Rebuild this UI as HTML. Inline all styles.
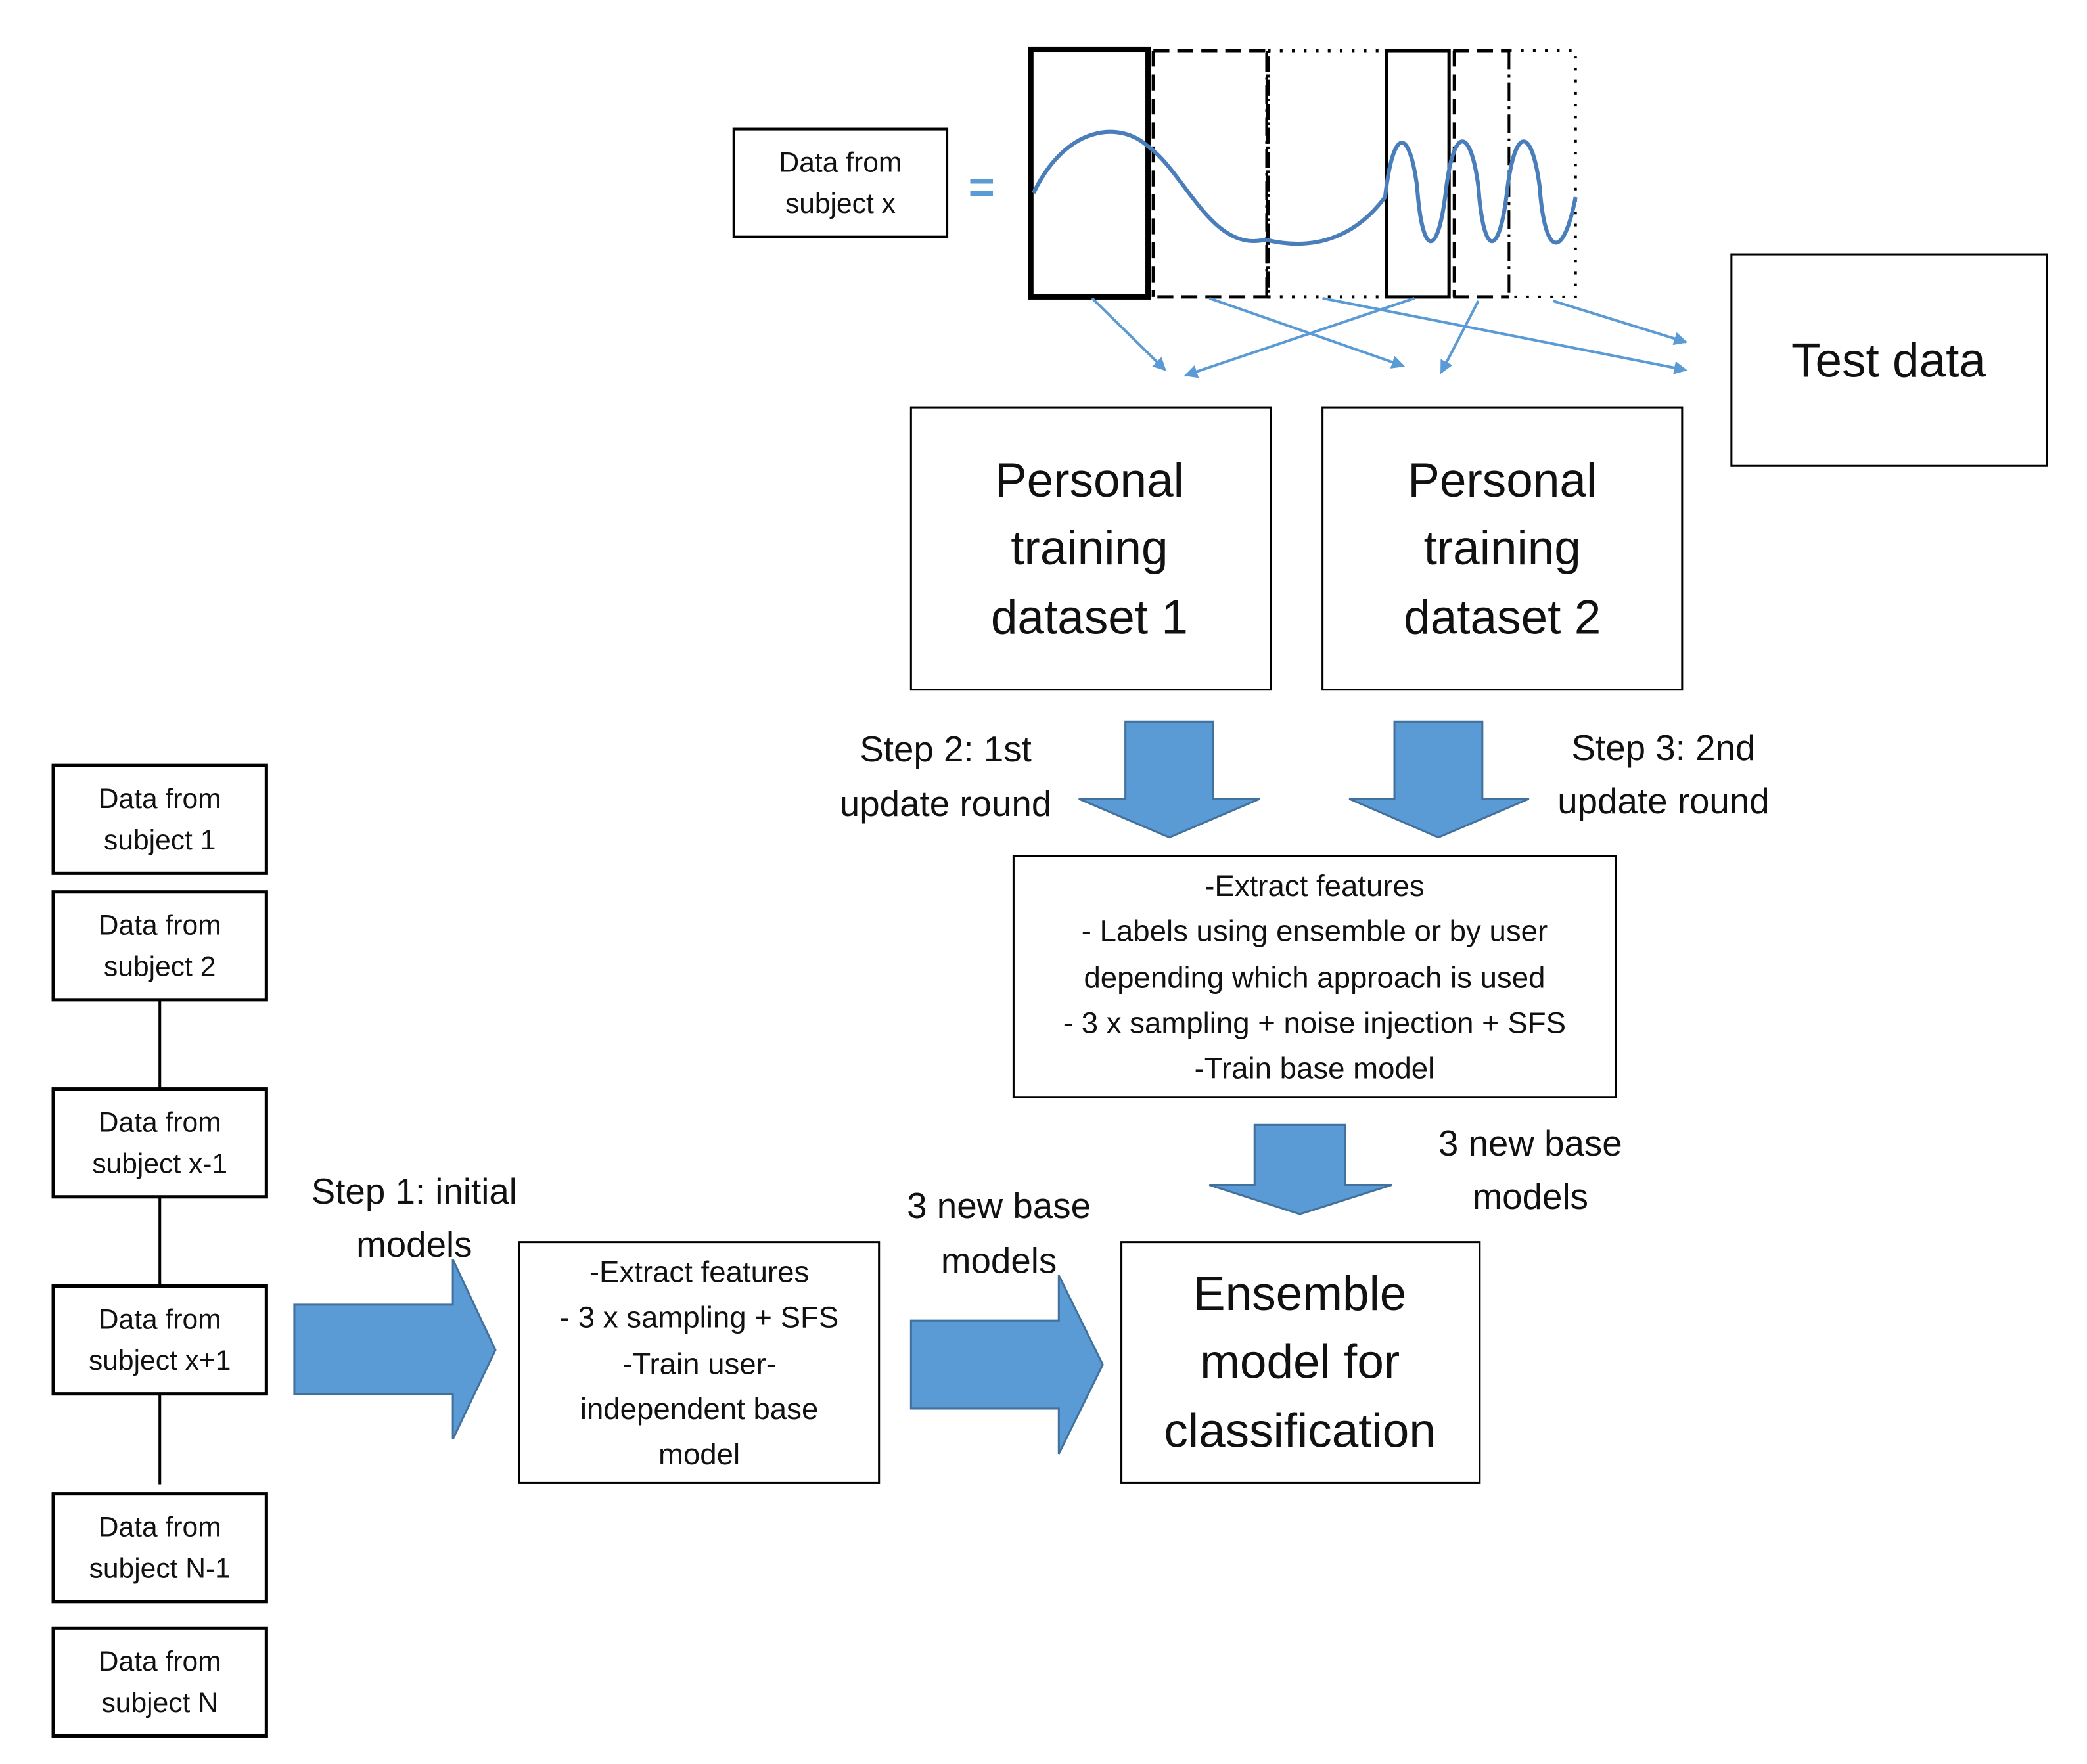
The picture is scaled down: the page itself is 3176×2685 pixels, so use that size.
<!DOCTYPE html>
<html><head><meta charset="utf-8"><style>
html,body{margin:0;padding:0;background:#fff;}
svg{display:block;}
text{font-family:"Liberation Sans",sans-serif;fill:#111;text-anchor:middle;}
</style></head><body>
<svg width="3176" height="2685" viewBox="0 0 1567 1325" preserveAspectRatio="none" xmlns="http://www.w3.org/2000/svg">
<defs>
<marker id="ah" markerWidth="10" markerHeight="10" refX="9" refY="5" orient="auto" markerUnits="userSpaceOnUse"><path d="M0,0 L10,5 L0,10 z" fill="#5B9BD5"/></marker>
</defs>
<g fill="none" stroke="#000">
<rect x="551" y="97" width="160" height="81" stroke-width="2"/>
<rect x="774" y="37" width="88" height="186" stroke-width="4"/>
<path d="M866,38 H952 V223 H866" stroke-width="2.5" stroke-dasharray="12,6"/>
<line x1="866" y1="38" x2="866" y2="223" stroke-width="2.5" stroke-dasharray="12,6"/>
<path d="M952,38 H1040 M952,223 H1040 M952,38 V223" stroke-width="2.5" stroke-dasharray="2,7"/>
<line x1="951" y1="40" x2="951" y2="222" stroke-width="2" stroke-dasharray="14,4,2,4"/>
<rect x="1041" y="38" width="47" height="185" stroke-width="2.5"/>
<path d="M1091,38 H1133 M1091,223 H1133 M1092,38 V223" stroke-width="2.5" stroke-dasharray="12,6"/>
<line x1="1133" y1="38" x2="1133" y2="223" stroke-width="2" stroke-dasharray="14,4,2,4"/>
<path d="M1133,38 H1183 V223 H1133" stroke-width="2" stroke-dasharray="2,7"/>
</g>
<path d="M776,145 C800,95 840,90 862,110 C890,130 910,190 950,180 C990,190 1020,175 1040,148 C1046,95 1058,95 1064,140 C1068,195 1080,195 1086,140 C1092,95 1104,95 1110,140 C1114,195 1126,195 1132,140 C1138,95 1150,95 1156,140 C1160,195 1174,195 1183,148" fill="none" stroke="#4A7EBB" stroke-width="3"/>
<text x="737" y="152" style="font-size:34px;fill:#5B9BD5;font-weight:bold">=</text>
<text x="631" y="129" style="font-size:21px">Data from</text>
<text x="631" y="160" style="font-size:21px">subject x</text>
<g stroke="#5B9BD5" stroke-width="2" marker-end="url(#ah)">
<line x1="820" y1="224" x2="875" y2="278"/>
<line x1="1062" y1="224" x2="890" y2="282"/>
<line x1="908" y1="224" x2="1054" y2="275"/>
<line x1="1110" y1="226" x2="1082" y2="280"/>
<line x1="993" y1="224" x2="1266" y2="278"/>
<line x1="1166" y1="226" x2="1266" y2="257"/>
</g>
<g fill="none" stroke="#000" stroke-width="1.5">
<rect x="1300" y="191" width="237" height="159"/>
<rect x="684" y="306" width="270" height="212"/>
<rect x="993" y="306" width="270" height="212"/>
<rect x="761" y="643" width="452" height="181"/>
<rect x="842" y="933" width="269" height="181"/>
<rect x="390" y="933" width="270" height="181"/>
</g>
<text x="1418" y="283" style="font-size:36px">Test data</text>
<text x="818" y="373" style="font-size:36px">Personal</text>
<text x="818" y="424" style="font-size:36px">training</text>
<text x="818" y="476" style="font-size:36px">dataset 1</text>
<text x="1128" y="373" style="font-size:36px">Personal</text>
<text x="1128" y="424" style="font-size:36px">training</text>
<text x="1128" y="476" style="font-size:36px">dataset 2</text>
<g fill="#5B9BD5" stroke="#41719C" stroke-width="1.5">
<path d="M845,542 H911 V600 H946 L878,629 L810,600 H845 Z"/>
<path d="M1047,542 H1113 V600 H1148 L1080,629 L1013,600 H1047 Z"/>
<path d="M942,845 H1010 V890 H1045 L976,912 L908,890 H942 Z"/>
<path d="M684,992 H795 V958 L828,1025 L795,1092 V1058 H684 Z"/>
<path d="M221,980 H340 V946 L372,1014 L340,1081 V1047 H221 Z"/>
</g>
<text x="710" y="572" style="font-size:27px">Step 2: 1st</text>
<text x="710" y="613" style="font-size:27px">update round</text>
<text x="1249" y="571" style="font-size:27px">Step 3: 2nd</text>
<text x="1249" y="611" style="font-size:27px">update round</text>
<g style="font-size:22.5px">
<text x="987" y="673">-Extract features</text>
<text x="987" y="707">- Labels using ensemble or by user</text>
<text x="987" y="742">depending which approach is used</text>
<text x="987" y="776">- 3 x sampling + noise injection + SFS</text>
<text x="987" y="810">-Train base model</text>
<text x="525" y="963">-Extract features</text>
<text x="525" y="997">- 3 x sampling + SFS</text>
<text x="525" y="1032">-Train user-</text>
<text x="525" y="1066">independent base</text>
<text x="525" y="1100">model</text>
</g>
<text x="1149" y="868" style="font-size:27px">3 new base</text>
<text x="1149" y="908" style="font-size:27px">models</text>
<text x="750" y="915" style="font-size:27px">3 new base</text>
<text x="750" y="956" style="font-size:27px">models</text>
<text x="311" y="904" style="font-size:27px">Step 1: initial</text>
<text x="311" y="944" style="font-size:27px">models</text>
<text x="976" y="984" style="font-size:36px">Ensemble</text>
<text x="976" y="1035" style="font-size:36px">model for</text>
<text x="976" y="1087" style="font-size:36px">classification</text>
<g fill="none" stroke="#000">
<line x1="120" y1="751" x2="120" y2="818" stroke-width="2"/>
<line x1="120" y1="899" x2="120" y2="966" stroke-width="2"/>
<line x1="120" y1="1047" x2="120" y2="1115" stroke-width="2"/>
<rect x="40" y="575" width="160" height="81" stroke-width="2.5"/>
<rect x="40" y="670" width="160" height="81" stroke-width="2.5"/>
<rect x="40" y="818" width="160" height="81" stroke-width="2.5"/>
<rect x="40" y="966" width="160" height="81" stroke-width="2.5"/>
<rect x="40" y="1122" width="160" height="81" stroke-width="2.5"/>
<rect x="40" y="1223" width="160" height="81" stroke-width="2.5"/>
</g>
<g style="font-size:21px">
<text x="120" y="607">Data from</text><text x="120" y="638">subject 1</text>
<text x="120" y="702">Data from</text><text x="120" y="733">subject 2</text>
<text x="120" y="850">Data from</text><text x="120" y="881">subject x-1</text>
<text x="120" y="998">Data from</text><text x="120" y="1029">subject x+1</text>
<text x="120" y="1154">Data from</text><text x="120" y="1185">subject N-1</text>
<text x="120" y="1255">Data from</text><text x="120" y="1286">subject N</text>
</g>
</svg>
</body></html>
